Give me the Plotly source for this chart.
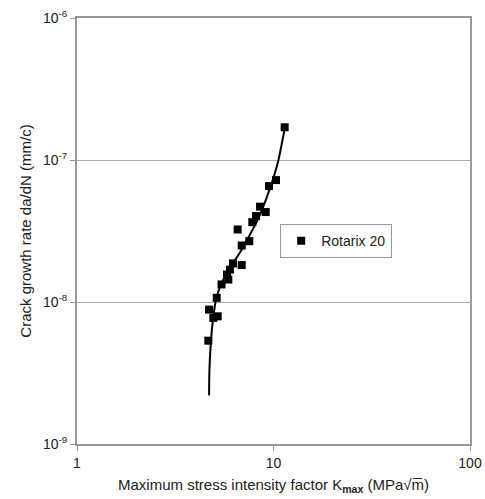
import plotly.graph_objects as go

# Measured data (Rotarix 20)
k_max = [11.4, 10.3, 9.49, 8.54, 9.13, 8.15, 7.80, 6.57, 7.53, 6.89, 6.89,
         6.22, 6.00, 5.80, 5.89, 5.44, 5.14, 4.70, 5.20, 4.94, 4.66]
dadn = [1.70e-7, 7.22e-8, 6.55e-8, 4.69e-8, 4.30e-8, 4.03e-8, 3.65e-8, 3.24e-8,
        2.68e-8, 2.50e-8, 1.82e-8, 1.87e-8, 1.69e-8, 1.56e-8, 1.44e-8, 1.33e-8,
        1.07e-8, 8.84e-9, 7.93e-9, 7.73e-9, 5.34e-9]

# Fitted curve
fit_k = [4.70, 4.72, 4.81, 4.92, 5.10, 5.41, 6.01, 6.75, 7.59, 8.33, 9.16, 9.94, 10.60, 11.44]
fit_rate = [2.2e-9, 3.33e-9, 5.43e-9, 7.51e-9, 1.04e-8, 1.33e-8, 1.75e-8, 2.23e-8,
            2.99e-8, 3.82e-8, 5.28e-8, 7.31e-8, 1.0e-7, 1.70e-7]

x_ticks = [1, 10, 100]
x_labels = ["1", "10", "100"]
y_ticks = [1e-9, 1e-8, 1e-7, 1e-6]
y_labels = ["10<sup>-9</sup>", "10<sup>-8</sup>", "10<sup>-7</sup>", "10<sup>-6</sup>"]

fig = go.Figure()
fig.add_trace(go.Scatter(x=fit_k, y=fit_rate, mode="lines",
                         line=dict(color="black", width=2, shape="spline", smoothing=0.6),
                         showlegend=False, hoverinfo="skip"))
fig.add_trace(go.Scatter(x=k_max, y=dadn, mode="markers", name="Rotarix 20",
                         marker=dict(symbol="square", size=8, color="black")))

font = dict(family="Liberation Sans, Arial, sans-serif", size=14, color="#222")

fig.update_layout(
    width=485, height=499,
    margin=dict(l=77, r=15, t=18, b=55, autoexpand=False),
    paper_bgcolor="white", plot_bgcolor="white",
    font=font,
    showlegend=True,
    legend=dict(x=0.517, y=0.516, xanchor="left", yanchor="top",
                bordercolor="#999", borderwidth=1, bgcolor="white",
                font=dict(family="Liberation Sans, Arial, sans-serif", size=14, color="#222"),
                itemwidth=30, tracegroupgap=0),
    xaxis=dict(type="log", range=[0, 2], tickvals=x_ticks, ticktext=x_labels,
               automargin=False,
               showgrid=False, showline=True, linecolor="#999", linewidth=2,
               mirror=True, ticks="outside", ticklen=5, tickcolor="#999",
               title=dict(text="Maximum stress intensity factor K<sub><b>max</b></sub> (MPa√m\u0305)",
                          standoff=10, font=dict(size=15))),
    yaxis=dict(type="log", range=[-9, -6], tickvals=y_ticks, ticktext=y_labels,
               automargin=False,
               showgrid=True, gridcolor="#aaa", gridwidth=1,
               showline=True, linecolor="#999", linewidth=2,
               mirror=True, ticks="outside", ticklen=5, tickcolor="#999",
               title=dict(text="Crack growth rate da/dN (mm/c)", standoff=8,
                          font=dict(size=15))),
)

fig.write_html("out.html")
